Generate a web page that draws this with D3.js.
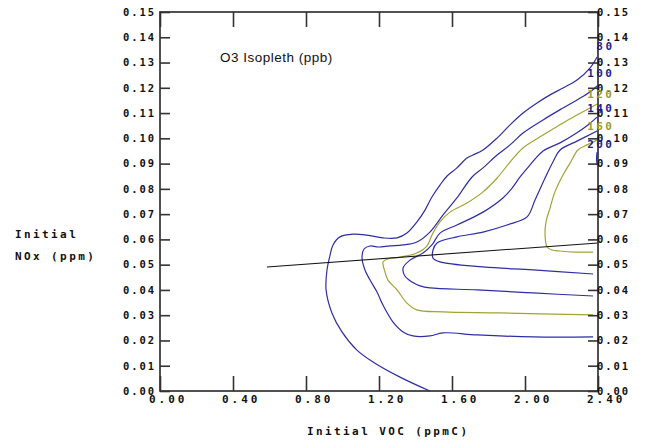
<!DOCTYPE html>
<html><head><meta charset="utf-8">
<script src="https://cdn.jsdelivr.net/npm/d3@7"></script>
<style>body{margin:0;background:#fff}svg{display:block}</style>
</head><body>
<svg id="chart" width="646" height="441"></svg>
<script>
// ---- data ----
const vocTicks = [0, 0.4, 0.8, 1.2, 1.6, 2.0, 2.4];
const vocTickLabels = ["0.00","0.40","0.80","1.20","1.60","2.00","2.40"];
const noxTicks = [0,0.01,0.02,0.03,0.04,0.05,0.06,0.07,0.08,0.09,0.10,0.11,0.12,0.13,0.14,0.15];
const noxTickLabels = ["0.00","0.01","0.02","0.03","0.04","0.05","0.06","0.07","0.08","0.09","0.10","0.11","0.12","0.13","0.14","0.15"];

const c80 = [[1.479,0],[1.315,0.0055],[1.167,0.0115],[1.079,0.0162],[0.997,0.0234],[0.942,0.0309],[0.910,0.0400],[0.915,0.0479],[0.932,0.0538],[0.948,0.0578],[0.986,0.0610],[1.058,0.0621],[1.134,0.0617],[1.222,0.0606],[1.299,0.0606],[1.353,0.0625],[1.408,0.0669],[1.452,0.0716],[1.490,0.0768],[1.534,0.0815],[1.573,0.0851],[1.627,0.0883],[1.682,0.0922],[1.715,0.0934],[1.770,0.0954],[1.847,0.1001],[1.918,0.1053],[1.989,0.1100],[2.066,0.1140],[2.137,0.1172],[2.208,0.1199],[2.285,0.1231],[2.356,0.1278],[2.395,0.1322]];
const c100 = [[2.373,0.0214],[2.044,0.0214],[1.737,0.0222],[1.551,0.0230],[1.479,0.0218],[1.386,0.0218],[1.332,0.0234],[1.277,0.0273],[1.222,0.0340],[1.189,0.0392],[1.151,0.0439],[1.123,0.0479],[1.107,0.0526],[1.118,0.0562],[1.151,0.0574],[1.195,0.0570],[1.260,0.0574],[1.332,0.0578],[1.408,0.0590],[1.479,0.0629],[1.551,0.0697],[1.627,0.0764],[1.710,0.0847],[1.770,0.0883],[1.847,0.0934],[1.918,0.0974],[1.989,0.1021],[2.099,0.1073],[2.208,0.1120],[2.285,0.1152],[2.356,0.1183],[2.395,0.1207]];
const c120 = [[2.373,0.0301],[1.863,0.0309],[1.551,0.0313],[1.408,0.0321],[1.353,0.0348],[1.299,0.0400],[1.249,0.0439],[1.233,0.0471],[1.222,0.0511],[1.244,0.0522],[1.315,0.0530],[1.408,0.0546],[1.463,0.0574],[1.490,0.0617],[1.534,0.0669],[1.589,0.0708],[1.682,0.0744],[1.770,0.0788],[1.847,0.0843],[1.918,0.0906],[1.989,0.0962],[2.099,0.1013],[2.208,0.1061],[2.285,0.1092],[2.356,0.1120],[2.395,0.1136]];
const c140 = [[2.373,0.0376],[2.044,0.0388],[1.737,0.0400],[1.479,0.0408],[1.425,0.0416],[1.381,0.0431],[1.342,0.0455],[1.332,0.0487],[1.370,0.0518],[1.441,0.0546],[1.490,0.0578],[1.534,0.0625],[1.627,0.0657],[1.770,0.0708],[1.879,0.0764],[1.929,0.0803],[1.973,0.0847],[2.027,0.0894],[2.099,0.0950],[2.192,0.0982],[2.274,0.1017],[2.345,0.1053],[2.395,0.1084]];
const c150 = [[2.373,0.0463],[2.044,0.0479],[1.770,0.0491],[1.534,0.0511],[1.496,0.0526],[1.496,0.0558],[1.518,0.0586],[1.627,0.0610],[1.770,0.0629],[1.901,0.0657],[2.011,0.0689],[2.055,0.0756],[2.110,0.0843],[2.153,0.0906],[2.192,0.0954],[2.285,0.0989],[2.395,0.1029]];
const c160 = [[2.395,0.0993],[2.340,0.0974],[2.290,0.0954],[2.247,0.0902],[2.208,0.0855],[2.164,0.0788],[2.137,0.0724],[2.115,0.0669],[2.110,0.0617],[2.121,0.0570],[2.148,0.0558],[2.192,0.0554],[2.274,0.0550],[2.373,0.0550]];
const c200 = [[2.395,0.0946],[2.392,0.0920],[2.395,0.0894]];
const ridge = [[0.586,0.0491],[2.4,0.0586]];

const contourLines = [c80, c100, c120, c140, c150, c160, c200];
const contourKinds = ["b","b","y","b","b","y","b"];
const labelTexts = ["80","100","120","140","160","200"];
const labelOf = [0,1,2,3,5,6];          // contour index each label belongs to
const labelKinds = ["b","b","y","b","y","b"];

// ---- layout ----
const L = 160, R = 598, T = 12, B = 391;
const lineColor = {b:"#2e2ea4", y:"#a3a332"};
const labelColor = {b:"#1e1e8c", y:"#9c9c2c"};
const labelRaise = [7,9,6,5,10,4];
const mono = "'DejaVu Sans Mono', monospace";

const svg = d3.select("#chart");
const x = d3.scaleLinear().domain([0, 2.4]).range([L, R]);
const y = d3.scaleLinear().domain([0, 0.15]).range([B, T]);

// title
svg.append("text").attr("x", 220).attr("y", 62)
  .attr("font-family", "'Liberation Sans', Arial, sans-serif")
  .attr("font-size", 13.5).attr("letter-spacing", 0.5).attr("fill", "#111")
  .text("O3 Isopleth (ppb)");

// contours
const line = d3.line().x(d => x(d[0])).y(d => y(d[1])).curve(d3.curveCatmullRom.alpha(0.5));
svg.append("g").selectAll("path").data(contourLines).join("path")
  .attr("d", line).attr("fill", "none")
  .attr("stroke", (d, i) => lineColor[contourKinds[i]])
  .attr("stroke-width", 1.2);

// ridge line
const straight = d3.line().x(d => x(d[0])).y(d => y(d[1]));
svg.append("path").attr("d", straight(ridge)).attr("fill", "none")
  .attr("stroke", "#111").attr("stroke-width", 1.1);

// axes
const axisColor = "#333";
const gAx = svg.append("g");
gAx.append("rect").attr("x", L).attr("y", T).attr("width", R - L).attr("height", B - T)
  .attr("fill", "none").attr("stroke", axisColor).attr("stroke-width", 1.7);

const leftAxis = d3.axisLeft(y).tickValues(noxTicks).tickSize(-10).tickFormat("");
const rightAxis = d3.axisRight(y).tickValues(noxTicks).tickSize(-10).tickFormat("");
const bottomAxis = d3.axisBottom(x).tickValues(vocTicks).tickSize(-15).tickFormat("");
const topAxis = d3.axisTop(x).tickValues(vocTicks).tickSize(-15).tickFormat("");
[[leftAxis, `translate(${L},0)`], [rightAxis, `translate(${R},0)`],
 [bottomAxis, `translate(0,${B})`], [topAxis, `translate(0,${T})`]].forEach(([ax, tr]) => {
  const g = gAx.append("g").attr("transform", tr).call(ax);
  g.select(".domain").remove();
  g.selectAll(".tick line").attr("stroke", axisColor).attr("stroke-width", 1.6);
});

// tick labels
const tl = svg.append("g").attr("font-family", mono).attr("font-weight", "bold").attr("fill", "#111");
noxTicks.forEach((v, i) => {
  tl.append("text").attr("x", 123).attr("y", y(v) + 3.8)
    .attr("font-size", 10.5).attr("letter-spacing", 1.9).text(noxTickLabels[i]);
  tl.append("text").attr("x", R - 1).attr("y", y(v) + 3.8)
    .attr("font-size", 10.5).attr("letter-spacing", 1.9).text(noxTickLabels[i]);
});
vocTicks.forEach((v, i) => {
  tl.append("text").attr("x", x(v) - 11).attr("y", 403)
    .attr("font-size", 11).attr("letter-spacing", 3.0).text(vocTickLabels[i]);
});

// axis titles
const at = svg.append("g").attr("font-family", mono).attr("font-weight", "bold")
  .attr("font-size", 11).attr("letter-spacing", 2.4).attr("fill", "#111");
at.append("text").attr("x", 307).attr("y", 435).text("Initial VOC (ppmC)");
at.append("text").attr("x", 15).attr("y", 238).text("Initial");
at.append("text").attr("x", 15).attr("y", 260).text("NOx (ppm)");

// contour labels (placed just above each contour's right-edge end)
const cl = svg.append("g").attr("font-family", mono).attr("font-weight", "bold")
  .attr("font-size", 11).attr("letter-spacing", 2.4);
labelTexts.forEach((t, i) => {
  const edge = contourLines[labelOf[i]].filter(p => p[0] > 2.39);
  const topNox = d3.max(edge, p => p[1]);
  const w = t.length * 9.02 - 2.4;
  cl.append("text").attr("x", 612 - w).attr("y", y(topNox) - labelRaise[i])
    .attr("fill", labelColor[labelKinds[i]]).text(t);
});
</script>
</body></html>
